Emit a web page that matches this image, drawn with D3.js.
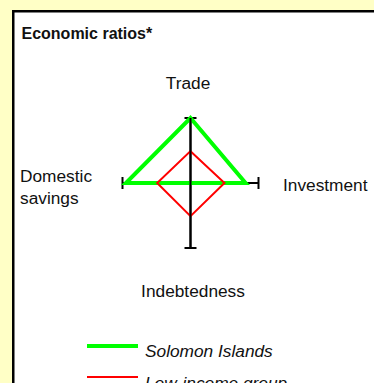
<!DOCTYPE html>
<html><head><meta charset="utf-8">
<script src="https://cdn.jsdelivr.net/npm/d3@7"></script>
<style>
html,body{margin:0;padding:0;background:#FFFFC6;overflow:hidden;}
svg{display:block;font-family:"Liberation Sans",Arial,sans-serif;}
</style></head><body>
<script>
const axes = ["Trade","Investment","Indebtedness","Domestic savings"];
const solomon = [1.0, 0.81, 0.0, 0.95];
const lowIncome = [0.49, 0.5, 0.51, 0.49];
const seriesNames = ["Solomon Islands","Low-income group"];
const seriesColors = ["#00FF00","#FF0000"];
const seriesWidths = [4, 2];

const W=374,H=383;
const svg=d3.select("body").append("svg").attr("width",W).attr("height",H);
svg.append("rect").attr("x",13.25).attr("y",11.25).attr("width",W).attr("height",H)
  .attr("fill","#fff").attr("stroke","#000").attr("stroke-width",2.5);

svg.append("text").attr("x",21.5).attr("y",39).attr("font-size",16).attr("font-weight","bold")
  .attr("fill","#111").text("Economic ratios*");

const cx=190.5, cy=183;
const rx=d3.scaleLinear().domain([0,1]).range([0,68]);
const ry=d3.scaleLinear().domain([0,1]).range([0,65]);
// angles: Trade up, Investment right, Indebtedness down, Domestic savings left
const dirs=[[0,-1],[1,0],[0,1],[-1,0]];
function pt(i,v){return [cx+dirs[i][0]*rx(v), cy+dirs[i][1]*ry(v)];}

const g=svg.append("g");
[[0,2],[1,3]].forEach(([a,b])=>{
  const p=pt(a,1),q=pt(b,1);
  g.append("line").attr("x1",p[0]).attr("y1",p[1]).attr("x2",q[0]).attr("y2",q[1])
   .attr("stroke","#000").attr("stroke-width",2);
});
axes.forEach((a,i)=>{
  const p=pt(i,1);
  const h=dirs[i][0]===0;
  g.append("line")
   .attr("x1",h?p[0]-6:p[0]).attr("x2",h?p[0]+6:p[0])
   .attr("y1",h?p[1]:p[1]-6).attr("y2",h?p[1]:p[1]+6)
   .attr("stroke","#000").attr("stroke-width",2);
});
const line=d3.line().curve(d3.curveLinearClosed);
[solomon,lowIncome].forEach((s,k)=>{
  g.append("path").attr("d",line(s.map((v,i)=>pt(i,v))))
   .attr("fill","none").attr("stroke",seriesColors[k]).attr("stroke-width",seriesWidths[k])
   .attr("stroke-linejoin","miter");
});
g.append("line").attr("x1",cx).attr("y1",pt(0,1)[1]).attr("x2",cx).attr("y2",pt(2,1)[1])
 .attr("stroke","#000").attr("stroke-width",2);

const lab=svg.append("g").attr("font-size",17.3).attr("fill","#111");
lab.append("text").attr("x",188).attr("y",89).attr("text-anchor","middle").text(axes[0]);
lab.append("text").attr("x",283).attr("y",191).text(axes[1]);
lab.append("text").attr("x",193).attr("y",297).attr("text-anchor","middle").text(axes[2]);
const ds=lab.append("text").attr("x",20).attr("y",182);
axes[3].split(" ").forEach((w,i)=>ds.append("tspan").attr("x",20).attr("dy",i?21.5:0).text(w));

const leg=svg.append("g");
const legY=[346,377], textY=[356.5,389];
seriesNames.forEach((n,k)=>{
  leg.append("line").attr("x1",87).attr("x2",138).attr("y1",legY[k]).attr("y2",legY[k])
   .attr("stroke",seriesColors[k]).attr("stroke-width",seriesWidths[k]);
  leg.append("text").attr("x",145).attr("y",textY[k]).attr("font-size",17.3)
   .attr("font-style","italic").attr("fill","#111").text(n);
});
</script></body></html>
